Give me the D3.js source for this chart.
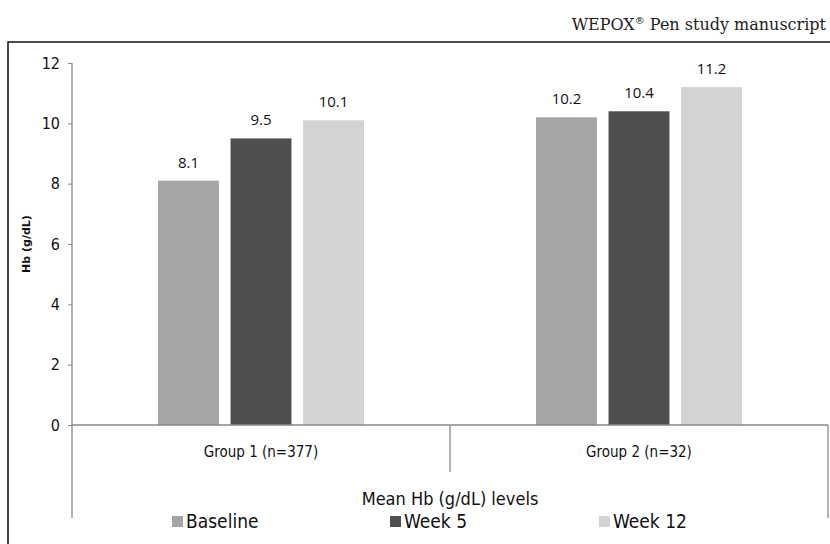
<!DOCTYPE html>
<html>
<head>
<meta charset="utf-8">
<script src="https://cdn.jsdelivr.net/npm/d3@7"></script>
<style>
  body { margin: 0; background: #fff; }
  svg { display: block; }
</style>
</head>
<body>
<div id="chart"></div>
<script>
// data
const groups = ["Group 1 (n=377)", "Group 2 (n=32)"];
const series = ["Baseline", "Week 5", "Week 12"];
const group1Values = [8.1, 9.5, 10.1];
const group2Values = [10.2, 10.4, 11.2];
const yTicks = [0, 2, 4, 6, 8, 10, 12];
const colors = ["#a5a5a5", "#4f4f4f", "#d3d3d3"];

const width = 830, height = 544;
const sans = "'DejaVu Sans', Verdana, sans-serif";
const narrow = "'DejaVu Sans Condensed', 'DejaVu Sans', sans-serif";

const svg = d3.select("#chart").append("svg")
    .attr("width", width)
    .attr("height", height);

// header
svg.append("text")
    .attr("x", 826).attr("y", 30)
    .attr("text-anchor", "end")
    .attr("font-family", "'DejaVu Serif', serif")
    .attr("font-size", 16)
    .attr("fill", "#222")
    .html("WEPOX<tspan dy='-6' font-size='10'>®</tspan><tspan dy='6'> Pen study manuscript</tspan>");

// frame (top + left)
svg.append("path")
    .attr("d", "M8,544V42H830")
    .attr("fill", "none")
    .attr("stroke", "#111")
    .attr("stroke-width", 1.5);

// scales
const y = d3.scaleLinear().domain([0, 12]).range([425, 63]);
const x0 = d3.scaleBand().domain(groups).range([72, 828]);
const x1 = d3.scaleBand().domain(series).range([0, 206]).paddingInner(0.16);
const clusterOffset = (x0.bandwidth() - 206) / 2;

// y axis
const yAxis = svg.append("g")
    .attr("transform", "translate(72,0)")
    .call(d3.axisLeft(y).tickValues(yTicks).tickSize(4).tickPadding(8));
yAxis.select(".domain").remove();
yAxis.selectAll(".tick line").attr("stroke", "#888");
yAxis.selectAll(".tick text")
    .attr("font-family", narrow)
    .attr("font-size", 16)
    .attr("fill", "#111");

svg.append("line")
    .attr("x1", 72).attr("x2", 72)
    .attr("y1", y(12)).attr("y2", 518)
    .attr("stroke", "#888").attr("stroke-width", 1.3);

svg.append("text")
    .attr("transform", "translate(30," + y(6) + ") rotate(-90)")
    .attr("text-anchor", "middle")
    .attr("font-family", sans)
    .attr("font-size", 11)
    .attr("font-weight", "bold")
    .attr("fill", "#111")
    .text("Hb (g/dL)");

// bars
const rows = groups.map((g, i) => ({ group: g, values: i === 0 ? group1Values : group2Values }));

const gGroups = svg.append("g").selectAll("g")
    .data(rows)
    .join("g")
    .attr("transform", d => "translate(" + (x0(d.group) + clusterOffset) + ",0)");

gGroups.selectAll("rect")
    .data(d => d.values.map((v, i) => ({ key: series[i], value: v, color: colors[i] })))
    .join("rect")
    .attr("x", d => x1(d.key))
    .attr("y", d => y(d.value))
    .attr("width", x1.bandwidth())
    .attr("height", d => y(0) - y(d.value))
    .attr("fill", d => d.color);

gGroups.selectAll("text")
    .data(d => d.values.map((v, i) => ({ key: series[i], value: v })))
    .join("text")
    .attr("x", d => x1(d.key) + x1.bandwidth() / 2)
    .attr("y", d => y(d.value) - 13)
    .attr("text-anchor", "middle")
    .attr("font-family", "'Open Sans', sans-serif")
    .attr("font-size", 15)
    .attr("fill", "#111")
    .text(d => d.value.toFixed(1));

// x axis baseline and category separators
svg.append("line")
    .attr("x1", 72).attr("x2", 828)
    .attr("y1", y(0)).attr("y2", y(0))
    .attr("stroke", "#888").attr("stroke-width", 1.3);
svg.append("line")
    .attr("x1", x0(groups[1])).attr("x2", x0(groups[1]))
    .attr("y1", y(0)).attr("y2", 472)
    .attr("stroke", "#888").attr("stroke-width", 1.3);
svg.append("line")
    .attr("x1", 828).attr("x2", 828)
    .attr("y1", y(0)).attr("y2", 518)
    .attr("stroke", "#888").attr("stroke-width", 1.3);

svg.append("g").selectAll("text")
    .data(groups)
    .join("text")
    .attr("x", d => x0(d) + x0.bandwidth() / 2)
    .attr("y", 457)
    .attr("text-anchor", "middle")
    .attr("font-family", narrow)
    .attr("font-size", 15)
    .attr("fill", "#111")
    .text(d => d);

svg.append("text")
    .attr("x", 450).attr("y", 505)
    .attr("text-anchor", "middle")
    .attr("font-family", narrow)
    .attr("font-size", 18)
    .attr("fill", "#111")
    .text("Mean Hb (g/dL) levels");

// legend
const legendX = [172, 390, 599];
const legend = svg.append("g").selectAll("g")
    .data(series)
    .join("g")
    .attr("transform", (d, i) => "translate(" + legendX[i] + ",516)");
legend.append("rect")
    .attr("width", 11).attr("height", 11)
    .attr("fill", (d, i) => colors[i]);
legend.append("text")
    .attr("x", 14).attr("y", 12)
    .attr("font-family", narrow)
    .attr("font-size", 19)
    .attr("fill", "#111")
    .text(d => d);
</script>
</body>
</html>
